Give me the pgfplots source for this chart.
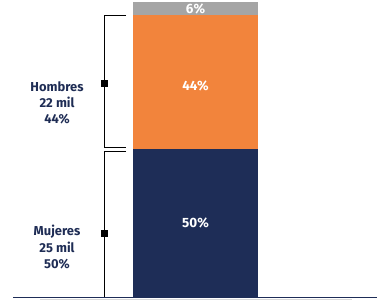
\documentclass[border=0pt]{standalone}
\usepackage{pgfplots}
\pgfplotsset{compat=1.18}
\usepackage{fontspec}
\setmainfont{Fira Sans}
\definecolor{navy}{HTML}{1E2D57}
\definecolor{orng}{HTML}{F2843C}
\definecolor{grey}{HTML}{A5A5A5}
\definecolor{txt}{HTML}{1F2D55}
\begin{document}
\begin{tikzpicture}
\begin{axis}[
  scale only axis, width=382bp, height=301bp,
  xmin=0, xmax=382, ymin=-1.356, ymax=100.678,
  hide axis, clip=false,
  ybar stacked, bar width=125,
]
\addplot[fill=navy, draw=none] coordinates {(195.5,50.2)};
\addplot[fill=orng, draw=none] coordinates {(195.5,45.4)};
\addplot[fill=grey, draw=none] coordinates {(195.5,4.4)};
\path (rel axis cs:0,0) rectangle (rel axis cs:1,1);
% baseline
\draw[black!15, line width=0.8pt] (axis cs:40,-0.75) -- (axis cs:352,-0.75);
\draw[navy, line width=0.8pt] (axis cs:13,0) -- (axis cs:377,0);
% brackets
\draw[black, line width=0.9pt] (axis cs:126,95.3) -- (axis cs:104,95.3) -- (axis cs:104,50.8) -- (axis cs:126,50.8);
\draw[black, line width=0.9pt] (axis cs:126,49.4) -- (axis cs:104,49.4) -- (axis cs:104,0) -- (axis cs:126,0);
\fill[black] (axis cs:104,72.5) ++(-3.5bp,-3.5bp) rectangle ++(7bp,7bp);
\fill[black] (axis cs:104,21.4) ++(-3.5bp,-3.5bp) rectangle ++(7bp,7bp);
\coordinate (hl) at (axis cs:57,65.8);
\coordinate (ml) at (axis cs:57,16.9);
\coordinate (b50) at (axis cs:195.5,25.1);
\coordinate (b44) at (axis cs:195.5,71.5);
\coordinate (b6) at (axis cs:195.5,97.8);
\end{axis}
% side labels
\node[align=center, font=\fontsize{13}{16.5}\selectfont\bfseries, text=txt] at (hl) {Hombres\\22 mil\\44\%};
\node[align=center, font=\fontsize{13}{16.5}\selectfont\bfseries, text=txt] at (ml) {Mujeres\\25 mil\\50\%};
% bar labels
\node[font=\fontsize{13.5}{14}\selectfont\bfseries, text=white] at (b50) {50\%};
\node[font=\fontsize{13.5}{14}\selectfont\bfseries, text=white] at (b44) {44\%};
\node[font=\fontsize{13.5}{14}\selectfont\bfseries, text=white] at (b6) {6\%};
\end{tikzpicture}
\end{document}
